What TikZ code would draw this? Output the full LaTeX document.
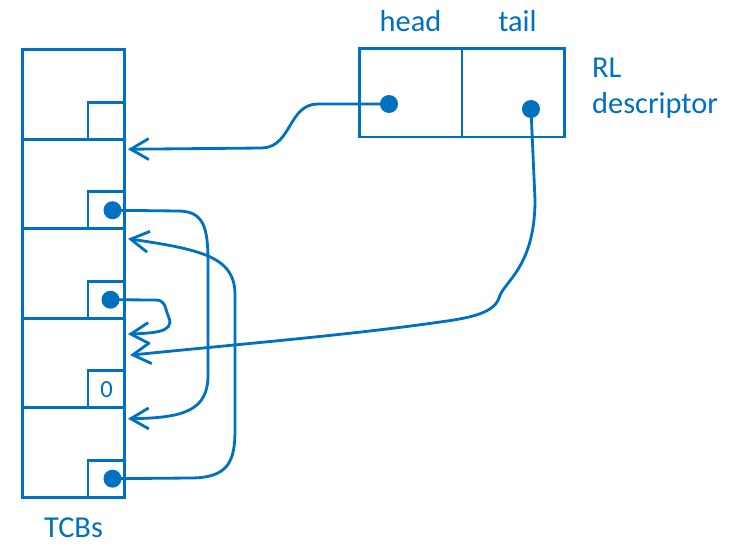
\documentclass[tikz,border=0pt]{standalone}
\usepackage{fontspec}
\setmainfont{Carlito}
\usetikzlibrary{positioning,arrows.meta}
\definecolor{tcbblue}{RGB}{0,112,192}

\begin{document}
\begin{tikzpicture}[
  x=0.02cm, y=-0.02cm,           % one unit is one pixel of the sketch, y runs down
  % Common node style
  every node/.style={text=tcbblue, font=\fontsize{17.3}{20.4}\selectfont},
  % Boxes of the TCB column and of the descriptor
  tcb/.style={draw=tcbblue, line width=1.7pt, minimum width=2.06cm, minimum height=1.79cm, outer sep=0pt},
  slot/.style={draw=tcbblue, line width=1.7pt, minimum size=0.74cm, inner sep=0pt, outer sep=0pt},
  cell/.style={draw=tcbblue, line width=1.7pt, minimum width=2.06cm, minimum height=1.78cm, outer sep=0pt},
  % Pointers
  dot/.style={circle, fill=tcbblue, inner sep=0pt, minimum size=0.36cm},
  link/.style={draw=tcbblue, line width=1.6pt, -{Straight Barb[length=0.36cm, width=0.42cm]}}
]

  \useasboundingbox (0,0) rectangle (746,548);

  % TCB column
  \node[tcb] (t1) at (73.5,94.5) {};
  \node[tcb, below=0pt of t1] (t2) {};
  \node[tcb, below=0pt of t2] (t3) {};
  \node[tcb, below=0pt of t3] (t4) {};
  \node[tcb, below=0pt of t4] (t5) {};
  \node[below=0.28cm of t5] (tcbs) {TCBs};

  % Link fields
  \node[slot, anchor=south east] (s1) at (t1.south east) {};
  \node[slot, anchor=south east] (s2) at (t2.south east) {};
  \node[slot, anchor=south east] (s3) at (t3.south east) {};
  \node[slot, anchor=south east, font=\fontsize{14}{16}\selectfont] (s4) at (t4.south east) {0};
  \node[slot, anchor=south east] (s5) at (t5.south east) {};
  \node[dot] (d2) at ([shift={(6,0)}]s2.center) {};
  \node[dot] (d3) at ([shift={(4,0)}]s3.center) {};
  \node[dot] (d5) at ([shift={(6,0)}]s5.center) {};

  % RL descriptor
  \node[cell] (head) at (410.5,92.5) {};
  \node[cell, right=0pt of head] (tail) {};
  \node[above=0.2cm of head] (headlbl) {head};
  \node[above=0.2cm of tail, xshift=0.08cm] (taillbl) {tail};
  \node[right=0.42cm of tail.north east, anchor=north west, align=left, yshift=-0.07cm] (rl) {RL\\descriptor};
  \node[dot] (hd) at ([shift={(-21.5,11.5)}]head.center) {};
  \node[dot] (td) at ([shift={(17.5,16.5)}]tail.center) {};

  % Pointers between the blocks
  \draw[link] (hd.center) -- (318,104) .. controls (288,104) and (292,147) .. (262,148)
    -- ([shift={(3,10)}]t2.north east);
  \draw[link] (d2.center) -- (178,211) .. controls (204,211) and (208,228) .. (208,262)
    -- (208,375) .. controls (208,410) and (185,418) .. ([shift={(3,11)}]t5.north east);
  \draw[link] (d5.center) -- (190,478) .. controls (228,478) and (235,462) .. (235,430)
    -- (235,295) .. controls (235,258) and (205,250) .. ([shift={(3,10)}]t3.north east);
  \draw[link] (d3.center) -- (155,300) .. controls (166,300) and (164,306) .. (169,318)
    .. controls (175,333) and (150,333) .. ([shift={(3,16)}]t4.north east);
  \draw[link] (td.center) -- (535,200) .. controls (535,268) and (503,282) .. (499,298)
    .. controls (494,313) and (470,318) .. (440,322)
    .. controls (350,335) and (230,345) .. ([shift={(5,37)}]t4.north east);

\end{tikzpicture}
\end{document}
